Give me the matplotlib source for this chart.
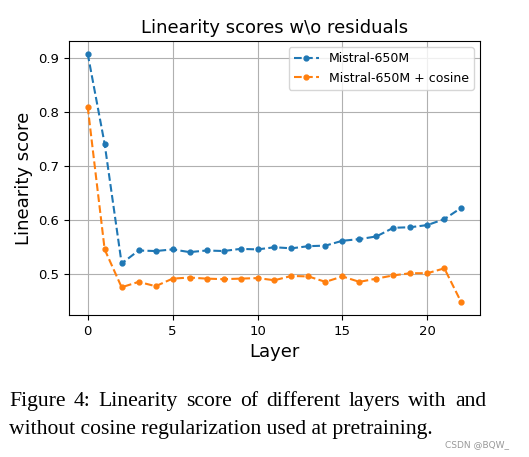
import matplotlib.pyplot as plt
import numpy as np

layers = np.arange(23)
mistral = [0.908, 0.741, 0.520, 0.544, 0.543, 0.546, 0.541, 0.544, 0.543, 0.547,
           0.546, 0.550, 0.548, 0.552, 0.553, 0.562, 0.565, 0.570, 0.586, 0.587,
           0.591, 0.602, 0.623]
mistral_cos = [0.810, 0.546, 0.476, 0.486, 0.478, 0.492, 0.494, 0.492, 0.491, 0.492,
               0.493, 0.489, 0.497, 0.496, 0.486, 0.496, 0.486, 0.492, 0.498, 0.502,
               0.502, 0.511, 0.448]
caption1 = 'Figure 4: Linearity score of different layers with and'
caption2 = 'without cosine regularization used at pretraining.'

fig = plt.figure(figsize=(5.29, 4.57), dpi=100)
ax = fig.add_axes([0.1304, 0.311, 0.777, 0.599])

ax.plot(layers, mistral, '--', marker='o', markersize=3.5, color='#1f77b4', label='Mistral-650M')
ax.plot(layers, mistral_cos, '--', marker='o', markersize=3.5, color='#ff7f0e', label='Mistral-650M + cosine')

ax.set_title('Linearity scores w\\o residuals', fontsize=13)
ax.set_xlabel('Layer', fontsize=13)
ax.set_ylabel('Linearity score', fontsize=13)
ax.set_xticks([0, 5, 10, 15, 20])
ax.tick_params(labelsize=9.5)
ax.grid(True)
ax.legend(loc='upper right', fontsize=9)

# caption: first line justified like in the paper
cap_font = dict(family='Liberation Serif', fontsize=15.6, va='baseline')
renderer = fig.canvas.get_renderer()
words = caption1.split(' ')
x0, x1 = 9 / 529, 486 / 529
texts = [fig.text(0, 1 - 406 / 457, w, **cap_font) for w in words]
widths = [t.get_window_extent(renderer).width / 529 for t in texts]
gap = (x1 - x0 - sum(widths)) / (len(words) - 1)
x = x0
for t, w in zip(texts, widths):
    t.set_x(x)
    x += w + gap
fig.text(x0, 1 - 434 / 457, caption2, **cap_font)
fig.text(0.962, 1 - 447 / 457, 'CSDN @BQW_', fontsize=6.5, color='#999999', ha='right', va='baseline')

fig.savefig('out.png', dpi=100)
